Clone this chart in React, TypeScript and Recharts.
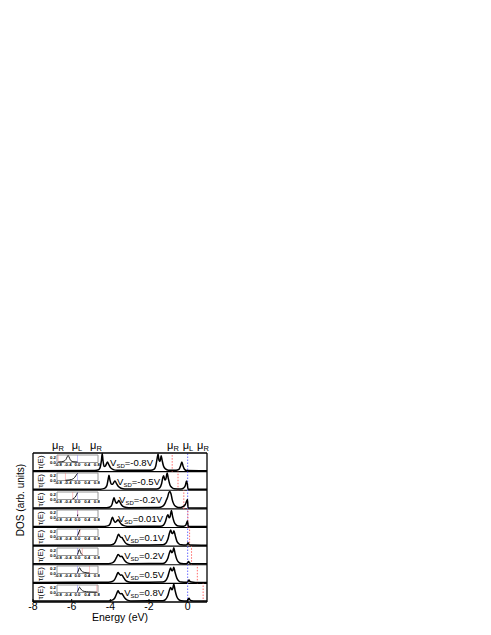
import React from "react";
import { LineChart, Line, XAxis, YAxis, ReferenceLine, ReferenceArea } from "recharts";

type Pt = [number, number];

const biases = [-0.8, -0.5, -0.2, 0.01, 0.1, 0.2, 0.5, 0.8];
const biasLabels = ["=-0.8V", "=-0.5V", "=-0.2V", "=0.01V", "=0.1V", "=0.2V", "=0.5V", "=0.8V"];
const energyTicks = [-8, -6, -4, -2, 0];
const insetTicks = [-0.8, -0.4, 0, 0.4, 0.8];
const insetYTicks = [0, 0.2];

// DOS per panel, [energy (eV), dos (arb.)], top panel first
const dosM08: Pt[] = [
  [-8, 0.05], [-4.8, 0.06], [-4.6, 0.1], [-4.52, 0.25], [-4.46, 0.6], [-4.42, 0.97], [-4.38, 0.6],
  [-4.32, 0.28], [-4.26, 0.3], [-4.2, 0.42], [-4.15, 0.52], [-4.08, 0.38], [-3.98, 0.2], [-3.85, 0.11],
  [-3.65, 0.07], [-1.9, 0.07], [-1.75, 0.12], [-1.65, 0.3], [-1.58, 0.7], [-1.53, 0.94], [-1.48, 0.6],
  [-1.43, 0.55], [-1.37, 0.85], [-1.32, 0.6], [-1.25, 0.3], [-1.15, 0.15], [-1.0, 0.08], [-0.6, 0.07],
  [-0.45, 0.12], [-0.37, 0.3], [-0.3, 0.52], [-0.24, 0.3], [-0.16, 0.12], [-0.05, 0.06], [1, 0.05],
];
const dosM05: Pt[] = [
  [-8, 0.05], [-4.5, 0.06], [-4.3, 0.1], [-4.18, 0.25], [-4.12, 0.55], [-4.07, 0.8], [-4.02, 0.55],
  [-3.95, 0.33], [-3.88, 0.32], [-3.82, 0.42], [-3.76, 0.5], [-3.68, 0.36], [-3.58, 0.2], [-3.45, 0.11],
  [-3.25, 0.07], [-1.6, 0.07], [-1.45, 0.13], [-1.35, 0.35], [-1.28, 0.7], [-1.24, 0.78], [-1.18, 0.55],
  [-1.13, 0.6], [-1.06, 0.92], [-1.0, 0.62], [-0.92, 0.3], [-0.82, 0.15], [-0.7, 0.08], [-0.35, 0.07],
  [-0.2, 0.13], [-0.12, 0.25], [-0.06, 0.5], [-0.02, 0.35], [0.02, 0.06], [1, 0.05],
];
const dosM02: Pt[] = [
  [-8, 0.05], [-4.2, 0.06], [-4.02, 0.1], [-3.92, 0.22], [-3.86, 0.45], [-3.81, 0.6], [-3.75, 0.42],
  [-3.68, 0.3], [-3.62, 0.36], [-3.56, 0.45], [-3.49, 0.33], [-3.4, 0.18], [-3.28, 0.1], [-3.05, 0.06],
  [-1.5, 0.07], [-1.3, 0.13], [-1.18, 0.28], [-1.1, 0.48], [-1.04, 0.62], [-0.98, 0.85], [-0.92, 0.93],
  [-0.86, 0.8], [-0.8, 0.5], [-0.72, 0.26], [-0.62, 0.13], [-0.5, 0.08], [-0.35, 0.08], [-0.22, 0.13],
  [-0.12, 0.24], [-0.05, 0.42], [-0.01, 0.51], [0.02, 0.06], [1, 0.05],
];
const dos001: Pt[] = [
  [-8, 0.05], [-4.3, 0.06], [-4.1, 0.1], [-4.0, 0.22], [-3.94, 0.43], [-3.89, 0.55], [-3.83, 0.4],
  [-3.75, 0.28], [-3.67, 0.34], [-3.6, 0.42], [-3.52, 0.3], [-3.42, 0.17], [-3.3, 0.1], [-3.1, 0.06],
  [-1.4, 0.07], [-1.25, 0.13], [-1.14, 0.35], [-1.07, 0.6], [-1.02, 0.69], [-0.96, 0.52], [-0.91, 0.58],
  [-0.84, 0.91], [-0.78, 0.6], [-0.7, 0.3], [-0.6, 0.14], [-0.48, 0.08], [-0.2, 0.07], [-0.1, 0.12],
  [-0.04, 0.28], [-0.01, 0.35], [0.02, 0.12], [0.06, 0.06], [1, 0.05],
];
const dos01: Pt[] = [
  [-8, 0.05], [-4.0, 0.06], [-3.85, 0.1], [-3.75, 0.2], [-3.66, 0.42], [-3.58, 0.64], [-3.52, 0.55],
  [-3.46, 0.47], [-3.4, 0.46], [-3.33, 0.35], [-3.24, 0.2], [-3.12, 0.1], [-2.95, 0.06], [-1.3, 0.07],
  [-1.15, 0.13], [-1.03, 0.35], [-0.94, 0.7], [-0.88, 0.87], [-0.82, 0.7], [-0.77, 0.68], [-0.71, 0.82],
  [-0.64, 0.55], [-0.56, 0.27], [-0.46, 0.13], [-0.32, 0.07], [-0.1, 0.06], [-0.02, 0.1], [0.02, 0.18],
  [0.06, 0.1], [0.15, 0.06], [1, 0.05],
];
const dos02: Pt[] = [
  [-8, 0.05], [-4.1, 0.06], [-3.9, 0.1], [-3.78, 0.2], [-3.68, 0.4], [-3.6, 0.55], [-3.54, 0.5],
  [-3.47, 0.44], [-3.4, 0.45], [-3.33, 0.34], [-3.24, 0.2], [-3.12, 0.1], [-2.95, 0.06], [-1.3, 0.07],
  [-1.15, 0.13], [-1.03, 0.33], [-0.94, 0.65], [-0.88, 0.78], [-0.82, 0.65], [-0.77, 0.7], [-0.72, 0.91],
  [-0.65, 0.6], [-0.56, 0.28], [-0.46, 0.13], [-0.32, 0.07], [-0.08, 0.06], [0.0, 0.1], [0.05, 0.18],
  [0.09, 0.1], [0.18, 0.06], [1, 0.05],
];
const dos05: Pt[] = [
  [-8, 0.05], [-4.1, 0.06], [-3.9, 0.1], [-3.78, 0.2], [-3.68, 0.42], [-3.6, 0.58], [-3.54, 0.5],
  [-3.47, 0.44], [-3.4, 0.45], [-3.33, 0.34], [-3.24, 0.2], [-3.12, 0.1], [-2.95, 0.06], [-1.3, 0.07],
  [-1.15, 0.13], [-1.03, 0.35], [-0.94, 0.68], [-0.88, 0.82], [-0.82, 0.68], [-0.77, 0.7], [-0.72, 0.87],
  [-0.65, 0.58], [-0.56, 0.28], [-0.46, 0.13], [-0.32, 0.07], [-0.06, 0.06], [0.02, 0.1], [0.07, 0.18],
  [0.11, 0.11], [0.2, 0.07], [0.4, 0.05], [1, 0.05],
];
const dos08: Pt[] = [
  [-8, 0.05], [-4.1, 0.06], [-3.9, 0.1], [-3.78, 0.2], [-3.68, 0.43], [-3.6, 0.6], [-3.54, 0.5],
  [-3.47, 0.44], [-3.4, 0.45], [-3.33, 0.34], [-3.24, 0.2], [-3.12, 0.1], [-2.95, 0.06], [-1.3, 0.07],
  [-1.15, 0.13], [-1.03, 0.33], [-0.94, 0.65], [-0.88, 0.78], [-0.82, 0.66], [-0.77, 0.72], [-0.72, 0.96],
  [-0.65, 0.62], [-0.56, 0.28], [-0.46, 0.13], [-0.32, 0.07], [-0.06, 0.06], [0.02, 0.11], [0.07, 0.2],
  [0.11, 0.12], [0.2, 0.07], [0.4, 0.05], [1, 0.05],
];
const dosPanels = [dosM08, dosM05, dosM02, dos001, dos01, dos02, dos05, dos08];

// transmission tau(E) inside the bias window, [E - mu_L, tau]
const tauM08: Pt[] = [
  [-0.8, 0.02], [-0.65, 0.03], [-0.55, 0.06], [-0.48, 0.12], [-0.43, 0.22], [-0.39, 0.28],
  [-0.35, 0.22], [-0.3, 0.11], [-0.24, 0.05], [-0.15, 0.03], [0, 0.02],
];
const tauM05: Pt[] = [
  [-0.5, 0.01], [-0.35, 0.02], [-0.25, 0.04], [-0.18, 0.07], [-0.12, 0.12], [-0.07, 0.19], [-0.03, 0.25], [0, 0.28],
];
const tauM02: Pt[] = [[-0.2, 0.03], [-0.15, 0.05], [-0.1, 0.09], [-0.06, 0.15], [-0.03, 0.21], [0, 0.27]];
const tau001: Pt[] = [[0, 0.06], [0.01, 0.12]];
const tau01: Pt[] = [[0, 0.04], [0.03, 0.1], [0.06, 0.18], [0.1, 0.27]];
const tau02: Pt[] = [[0, 0.04], [0.03, 0.12], [0.06, 0.22], [0.08, 0.24], [0.11, 0.17], [0.15, 0.08], [0.2, 0.04]];
const tau05: Pt[] = [
  [0, 0.03], [0.03, 0.1], [0.06, 0.2], [0.09, 0.23], [0.12, 0.18], [0.17, 0.1], [0.23, 0.06], [0.3, 0.04],
  [0.4, 0.025], [0.5, 0.02],
];
const tau08: Pt[] = [
  [0, 0.03], [0.03, 0.1], [0.06, 0.18], [0.09, 0.21], [0.12, 0.17], [0.17, 0.1], [0.23, 0.06], [0.3, 0.04],
  [0.45, 0.025], [0.6, 0.02], [0.8, 0.015],
];
const tauPanels = [tauM08, tauM05, tauM02, tau001, tau01, tau02, tau05, tau08];

const labelEnds = [153, 160, 162, 163, 164, 164, 164, 164];

const FONT = "'Liberation Sans', Arial, sans-serif";
const TOP = 453;
const PANEL_H = 149 / 8;
const RED = "#ff6b6b";
const BLUE = "#6b6bff";

function Inset({ idx }: { idx: number }) {
  const data = tauPanels[idx].map(([e, t]) => ({ e, t }));
  return (
    <div style={{ position: "absolute", left: 48, top: TOP + idx * PANEL_H + 0.5 }}>
      <LineChart width={52} height={15} margin={{ top: 1, right: 2, left: 0, bottom: 0 }} data={data}>
        <XAxis
          type="number"
          dataKey="e"
          domain={[-0.85, 0.85]}
          ticks={insetTicks}
          interval={0}
          tickFormatter={(v) => Number(v).toFixed(1)}
          tick={{ fontSize: 4.3, fontWeight: 700, fill: "#000", fontFamily: FONT }}
          tickSize={0}
          tickMargin={0.5}
          axisLine={false}
          tickLine={false}
          height={6.5}
        />
        <YAxis
          type="number"
          domain={[0, 0.3]}
          ticks={insetYTicks}
          interval={0}
          tickFormatter={(v) => Number(v).toFixed(1)}
          tick={{ fontSize: 4.3, fontWeight: 700, fill: "#000", fontFamily: FONT }}
          tickSize={0}
          tickMargin={1}
          axisLine={false}
          tickLine={false}
          width={9}
        />
        <ReferenceArea x1={-0.85} x2={0.85} y1={0} y2={0.3} fill="#fff" fillOpacity={1} stroke="#8a8a8a" strokeWidth={0.9} />
        <ReferenceLine x={0} stroke={BLUE} strokeWidth={0.8} strokeDasharray="1 1" />
        <ReferenceLine x={biases[idx]} stroke={RED} strokeWidth={0.8} strokeDasharray="1 1" />
        <Line type="monotone" dataKey="t" stroke="#000" strokeWidth={0.9} dot={false} isAnimationActive={false} />
      </LineChart>
    </div>
  );
}

function Mu({ x, sub }: { x: number; sub: string }) {
  return (
    <text x={x} y={449} textAnchor="middle" fontSize={11} fontFamily={FONT}>
      μ<tspan fontSize={7.5} dy={2}>{sub}</tspan>
    </text>
  );
}

export default function App() {
  return (
    <div style={{ position: "absolute", left: 0, top: 0, width: 491, height: 635, background: "#fff" }}>
      <div style={{ position: "absolute", left: 0, top: 0 }}>
        <LineChart width={491} height={635} margin={{ top: TOP, right: 284, left: 33, bottom: 13 }}>
          <XAxis
            type="number"
            dataKey="e"
            domain={[-8, 1]}
            ticks={energyTicks}
            interval={0}
            allowDataOverflow
            tick={{ fontSize: 10.5, fill: "#000", fontFamily: FONT }}
            tickSize={-3}
            tickMargin={4}
            axisLine={false}
            tickLine={{ stroke: "#000" }}
            height={20}
          />
          <YAxis type="number" domain={[0, 8]} hide />
          {[1, 2, 3, 4, 5, 6, 7].map((k) => (
            <ReferenceLine key={"s" + k} y={k} stroke="#000" strokeWidth={1.1} />
          ))}
          <ReferenceLine x={0} stroke={BLUE} strokeWidth={1} strokeDasharray="1.5 1.5" />
          {biases.map((v, i) => (
            <ReferenceLine
              key={"r" + i}
              segment={[{ x: v, y: 7 - i }, { x: v, y: 8 - i }]}
              stroke={RED}
              strokeWidth={1}
              strokeDasharray="1.5 1.5"
            />
          ))}
          {dosPanels.map((pts, i) => (
            <Line
              key={"d" + i}
              data={pts.map(([e, d]) => ({ e, v: 7 - i + d }))}
              type="monotone"
              dataKey="v"
              stroke="#000"
              strokeWidth={1.5}
              dot={false}
              isAnimationActive={false}
            />
          ))}
          <ReferenceLine y={0} stroke="#000" strokeWidth={1.3} />
          <ReferenceLine y={8} stroke="#000" strokeWidth={1.3} />
          <ReferenceLine x={-8} stroke="#000" strokeWidth={1.3} />
          <ReferenceLine x={1} stroke="#000" strokeWidth={1.3} />
        </LineChart>
      </div>
      {biases.map((_, i) => (
        <Inset key={i} idx={i} />
      ))}
      <svg width={491} height={635} style={{ position: "absolute", left: 0, top: 0, pointerEvents: "none" }}>
        <Mu x={58} sub="R" />
        <Mu x={77} sub="L" />
        <Mu x={96} sub="R" />
        <Mu x={173} sub="R" />
        <Mu x={188} sub="L" />
        <Mu x={203} sub="R" />
        {biasLabels.map((lab, i) => (
          <text key={i} x={labelEnds[i]} y={TOP + i * PANEL_H + 13} textAnchor="end" fontSize={9.5} fontFamily={FONT}>
            V<tspan fontSize={6} dy={2}>SD</tspan>
            <tspan dy={-2}>{lab}</tspan>
          </text>
        ))}
        {biases.map((_, i) => {
          const cy = TOP + (i + 0.5) * PANEL_H;
          return (
            <text key={"t" + i} x={43} y={cy} transform={`rotate(-90 43 ${cy})`} textAnchor="middle" fontSize={8} fontFamily={FONT}>
              τ(E)
            </text>
          );
        })}
        <text x={24} y={500} transform="rotate(-90 24 500)" textAnchor="middle" fontSize={10} fontFamily={FONT}>
          DOS (arb. units)
        </text>
        <text x={120} y={621} textAnchor="middle" fontSize={10.5} fontFamily={FONT}>
          Energy (eV)
        </text>
      </svg>
    </div>
  );
}
